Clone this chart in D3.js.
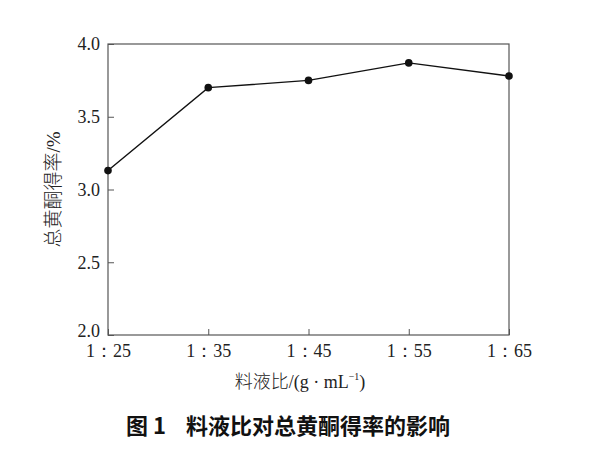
<!DOCTYPE html>
<html><head><meta charset="utf-8">
<script src="https://cdn.jsdelivr.net/npm/d3@7"></script>
<style>body{margin:0;background:#fff}</style>
</head><body>
<script>
const categories = ["1：25","1：35","1：45","1：55","1：65"];
const values = [3.13, 3.70, 3.75, 3.87, 3.78];
const yTicks = [2.0, 2.5, 3.0, 3.5, 4.0];

const W = 600, H = 453;
const m = {left:108, right:91, top:44, bottom:118};
const svg = d3.select("body").append("svg").attr("width",W).attr("height",H);
const x = d3.scalePoint().domain(categories).range([m.left, W-m.right]).padding(0);
const y = d3.scaleLinear().domain([2,4]).range([H-m.bottom, m.top]);
const axisColor = "#555";
const serif = "'Liberation Serif','Times New Roman',serif";

// frame
svg.append("rect").attr("x",m.left).attr("y",m.top)
  .attr("width",W-m.right-m.left).attr("height",H-m.bottom-m.top)
  .attr("fill","none").attr("stroke",axisColor).attr("stroke-width",1.2);

const gx = svg.append("g").attr("transform",`translate(0,${H-m.bottom})`)
  .call(d3.axisBottom(x).tickSizeInner(-6).tickSizeOuter(0).tickPadding(12));
gx.select(".domain").remove();
gx.selectAll("line").attr("stroke",axisColor);
gx.selectAll("text").attr("font-family",serif).attr("font-size",18).attr("fill","#222").attr("dy","0.55em");

const gy = svg.append("g").attr("transform",`translate(${m.left},0)`)
  .call(d3.axisLeft(y).tickValues(yTicks).tickFormat(d3.format(".1f")).tickSizeInner(-6).tickSizeOuter(0).tickPadding(8));
gy.select(".domain").remove();
gy.selectAll("line").attr("stroke",axisColor);
gy.selectAll("text").attr("font-family",serif).attr("font-size",18).attr("fill","#222");
gy.selectAll(".tick").filter(d=>d===2).select("text").attr("dy","0.1em");

// line
const pts = categories.map((c,i)=>({c, v: values[i]}));
svg.append("path").datum(pts)
  .attr("d", d3.line().x(d=>x(d.c)).y(d=>y(d.v)))
  .attr("fill","none").attr("stroke","#111").attr("stroke-width",1.4);
svg.selectAll("circle.pt").data(pts).join("circle")
  .attr("cx",d=>x(d.c)).attr("cy",d=>y(d.v)).attr("r",3.8).attr("fill","#111");

// axis titles
const xt = svg.append("text").attr("x",300).attr("y",388)
  .attr("text-anchor","middle").attr("font-size",18).attr("fill","#222").attr("font-family",serif);
xt.append("tspan").attr("font-family","'Noto Sans CJK SC'").attr("font-weight",300).text("料液比");
xt.append("tspan").text("/(g · mL");
xt.append("tspan").attr("font-size",10).attr("dy",-8).text("−1");
xt.append("tspan").attr("dy",8).text(")");

const yt = svg.append("text").attr("transform",`translate(60,${(m.top+H-m.bottom)/2}) rotate(-90)`)
  .attr("text-anchor","middle").attr("font-size",19).attr("fill","#222");
yt.append("tspan").attr("font-family","'Noto Sans CJK SC'").attr("font-weight",300).text("总黄酮得率");
yt.append("tspan").attr("font-family",serif).text("/%");

// caption
svg.append("text").attr("x",288).attr("y",434).attr("text-anchor","middle")
  .attr("font-family","'Noto Sans CJK SC'").attr("font-weight",700).attr("font-size",22).attr("fill","#111")
  .attr("xml:space","preserve").text("图 1    料液比对总黄酮得率的影响");
</script>
</body></html>
